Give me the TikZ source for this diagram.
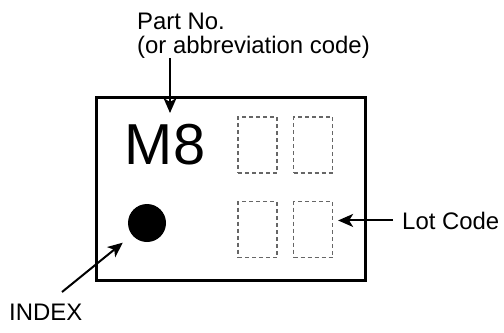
\documentclass[tikz,border=0pt]{standalone}
\usepackage{fontspec}
\setmainfont{Liberation Sans}
\usetikzlibrary{positioning}
\usetikzlibrary{arrows.meta}
\tikzset{
    chip/.style = {rectangle, draw=black, line width=3bp, minimum width=269bp, minimum height=183bp, inner sep=0pt},
    slot/.style = {rectangle, draw=black!60, line width=1.2bp, dash pattern=on 4bp off 3bp, minimum width=39bp, minimum height=56bp, inner sep=0pt},
    dot/.style = {circle, fill=black, minimum size=38bp, inner sep=0pt},
    lbl/.style = {inner sep=0pt, font=\fontsize{24}{24}\selectfont, align=left},
    edgep/.style = {-{Stealth[length=15bp,width=13bp,inset=4bp]}, line width=2bp},
}

\begin{document}
\begin{tikzpicture}[x=1bp,y=-1bp]
  \useasboundingbox (0,0) rectangle (504,332);

  % package outline
  \node[chip] (chip) at (230.5,188.5) {};
  \node[inner sep=0pt, font=\fontsize{58}{60}\selectfont] (m8) at (165,145) {M8};
  \node[dot] (idx) at (147,223) {};

  % lot code slots
  \node[slot] (s1) at (257.5,145) {};
  \node[slot] (s2) at (313,145) {};
  \node[slot] (s3) at (257.5,229.5) {};
  \node[slot] (s4) at (313,229.5) {};

  % labels
  \node[lbl, anchor=base west] (part) at (137,53) {Part No.\\(or abbreviation code)};
  \node[lbl, anchor=base west] (lot) at (402,229) {Lot Code};
  \node[lbl, anchor=base west] (index) at (9,320) {INDEX};

  \coordinate (ptip) at (170,113);
  \coordinate (itail) at (62,292);

  \draw[edgep] (part.south -| ptip) -- (ptip);
  \draw[edgep, shorten <=9bp, shorten >=5bp] (lot.west) -- (lot.west -| s4.east);
  \draw[edgep, shorten >=12bp] (itail) -- (idx);
\end{tikzpicture}
\end{document}
